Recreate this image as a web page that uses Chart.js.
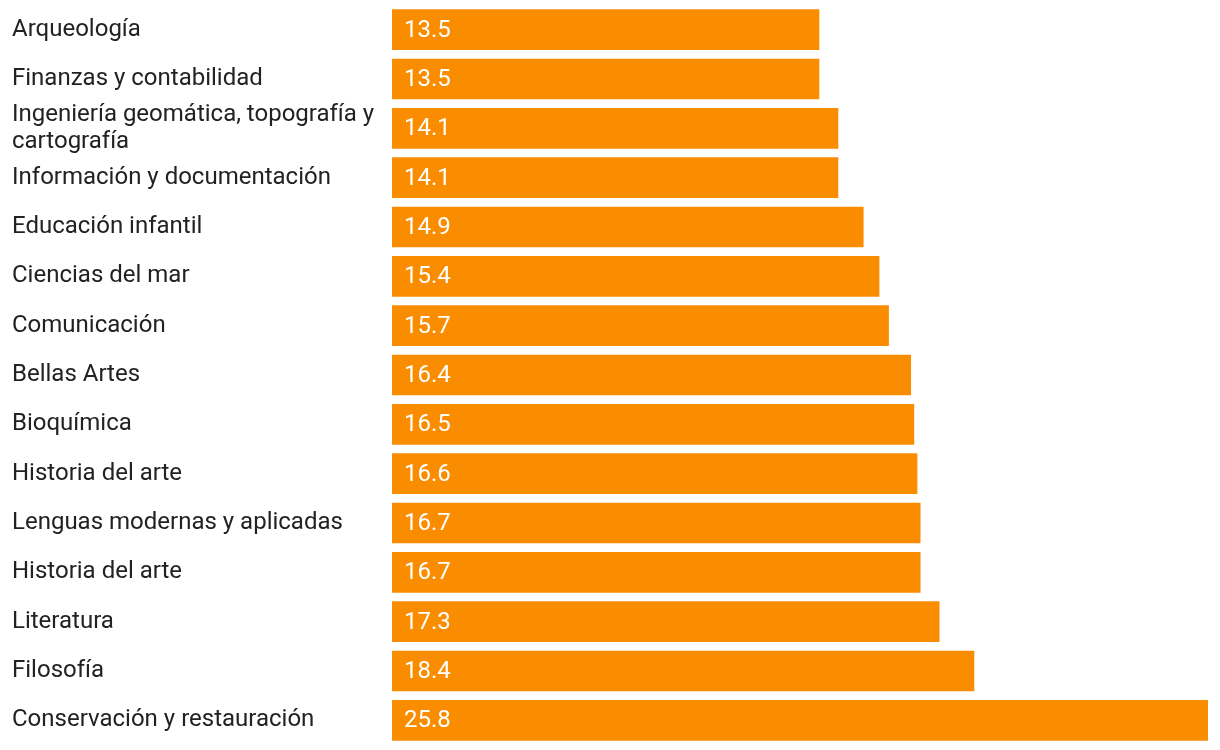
<!DOCTYPE html>
<html>
<head>
<meta charset="utf-8">
<script src="https://cdn.jsdelivr.net/npm/chart.js@4"></script>
<style>
html,body{margin:0;padding:0;background:#fff;}
#wrap{width:1220px;height:750px;}
</style>
</head>
<body>
<div id="wrap"><canvas id="c" width="1220" height="750"></canvas></div>
<script>
const categories = [
  "Arqueología",
  "Finanzas y contabilidad",
  ["Ingeniería geomática, topografía y", "cartografía"],
  "Información y documentación",
  "Educación infantil",
  "Ciencias del mar",
  "Comunicación",
  "Bellas Artes",
  "Bioquímica",
  "Historia del arte",
  "Lenguas modernas y aplicadas",
  "Historia del arte",
  "Literatura",
  "Filosofía",
  "Conservación y restauración"
];
const values = [13.5, 13.5, 14.1, 14.1, 14.9, 15.4, 15.7, 16.4, 16.5, 16.6, 16.7, 16.7, 17.3, 18.4, 25.8];

const BAR_COLOR = "#FA8C00";
const FONT = "Roboto, 'Noto Sans', sans-serif";

const valueLabels = {
  id: "valueLabels",
  afterDatasetsDraw(chart) {
    const ctx = chart.ctx;
    const meta = chart.getDatasetMeta(0);
    ctx.save();
    ctx.font = "24px " + FONT;
    ctx.fillStyle = "#ffffff";
    ctx.textAlign = "left";
    ctx.textBaseline = "middle";
    meta.data.forEach((bar, i) => {
      const v = chart.data.datasets[0].data[i];
      ctx.fillText(v.toFixed(1), bar.base + 12, bar.y + 1);
    });
    ctx.restore();
  }
};

new Chart(document.getElementById("c"), {
  type: "bar",
  data: {
    labels: categories,
    datasets: [{
      data: values,
      backgroundColor: BAR_COLOR,
      borderWidth: 0,
      barThickness: 40
    }]
  },
  options: {
    indexAxis: "y",
    responsive: false,
    animation: false,
    maintainAspectRatio: false,
    layout: { padding: { top: 5, bottom: 5, left: 12, right: 12 } },
    plugins: { legend: { display: false }, tooltip: { enabled: false } },
    scales: {
      x: {
        display: false,
        min: 0,
        max: 25.8
      },
      y: {
        grid: { display: false },
        border: { display: false },
        ticks: {
          autoSkip: false,
          crossAlign: "far",
          color: "#222222",
          padding: 0,
          font: { family: FONT, size: 24, lineHeight: 1.1 }
        },
        afterFit(scale) {
          scale.width = 380;
          scale.paddingTop = 0;
          scale.paddingBottom = 0;
        }
      }
    }
  },
  plugins: [valueLabels]
});
</script>
</body>
</html>
